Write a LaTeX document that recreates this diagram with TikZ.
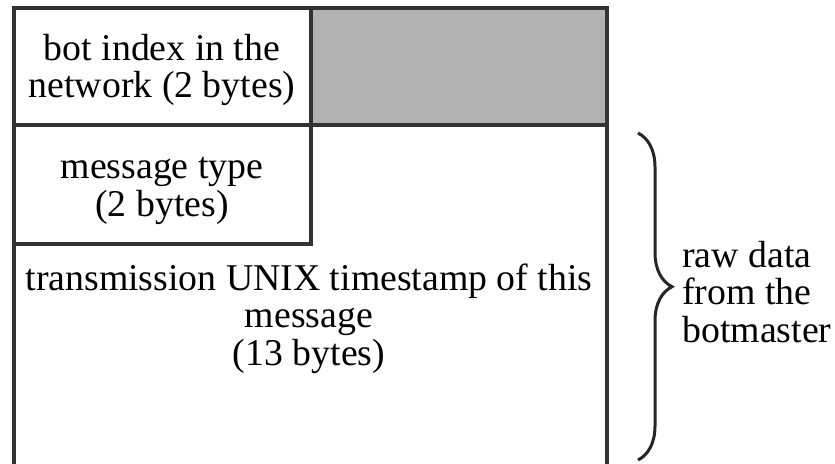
\documentclass[tikz,border=0pt]{standalone}
\usepackage{fontspec}
\setmainfont{Liberation Serif}
\usetikzlibrary{decorations.pathreplacing}

\begin{document}
\begin{tikzpicture}[x=0.5pt,y=-0.5pt,
  cell/.style={draw=black!80,line width=2pt},
  lbl/.style={font=\fontsize{18.9}{18.75}\selectfont,inner sep=0pt,align=center}]
\clip (0,0) rectangle (835,463);
\fill[white] (0,0) rectangle (835,463);
% packet fields
\fill[black!30] (311,8) rectangle (607,125);
\draw[cell] (14,8) rectangle (607,520);
\draw[cell] (14,125) -- (607,125);
\draw[cell] (311,8) -- (311,125);
\draw[cell] (14,125) rectangle (311,244);
\node[lbl] (botidx) at (162,70) {bot index in the\\network (2 bytes)};
\node[lbl] (msgtype) at (162,191) {message type\\(2 bytes)};
\node[lbl] (tstamp) at (309,318.6) {transmission UNIX timestamp of this\\message\\(13 bytes)};
% brace
\coordinate (btop) at (638,133);
\coordinate (bbot) at (638,460);
\draw[line width=1.5pt,black!85,decorate,decoration={brace,amplitude=17pt,aspect=0.47}] (btop) -- (bbot);
\node[lbl,align=left,anchor=west] (raw) at (682,291.6) {raw data\\from the\\botmaster};
\end{tikzpicture}
\end{document}
